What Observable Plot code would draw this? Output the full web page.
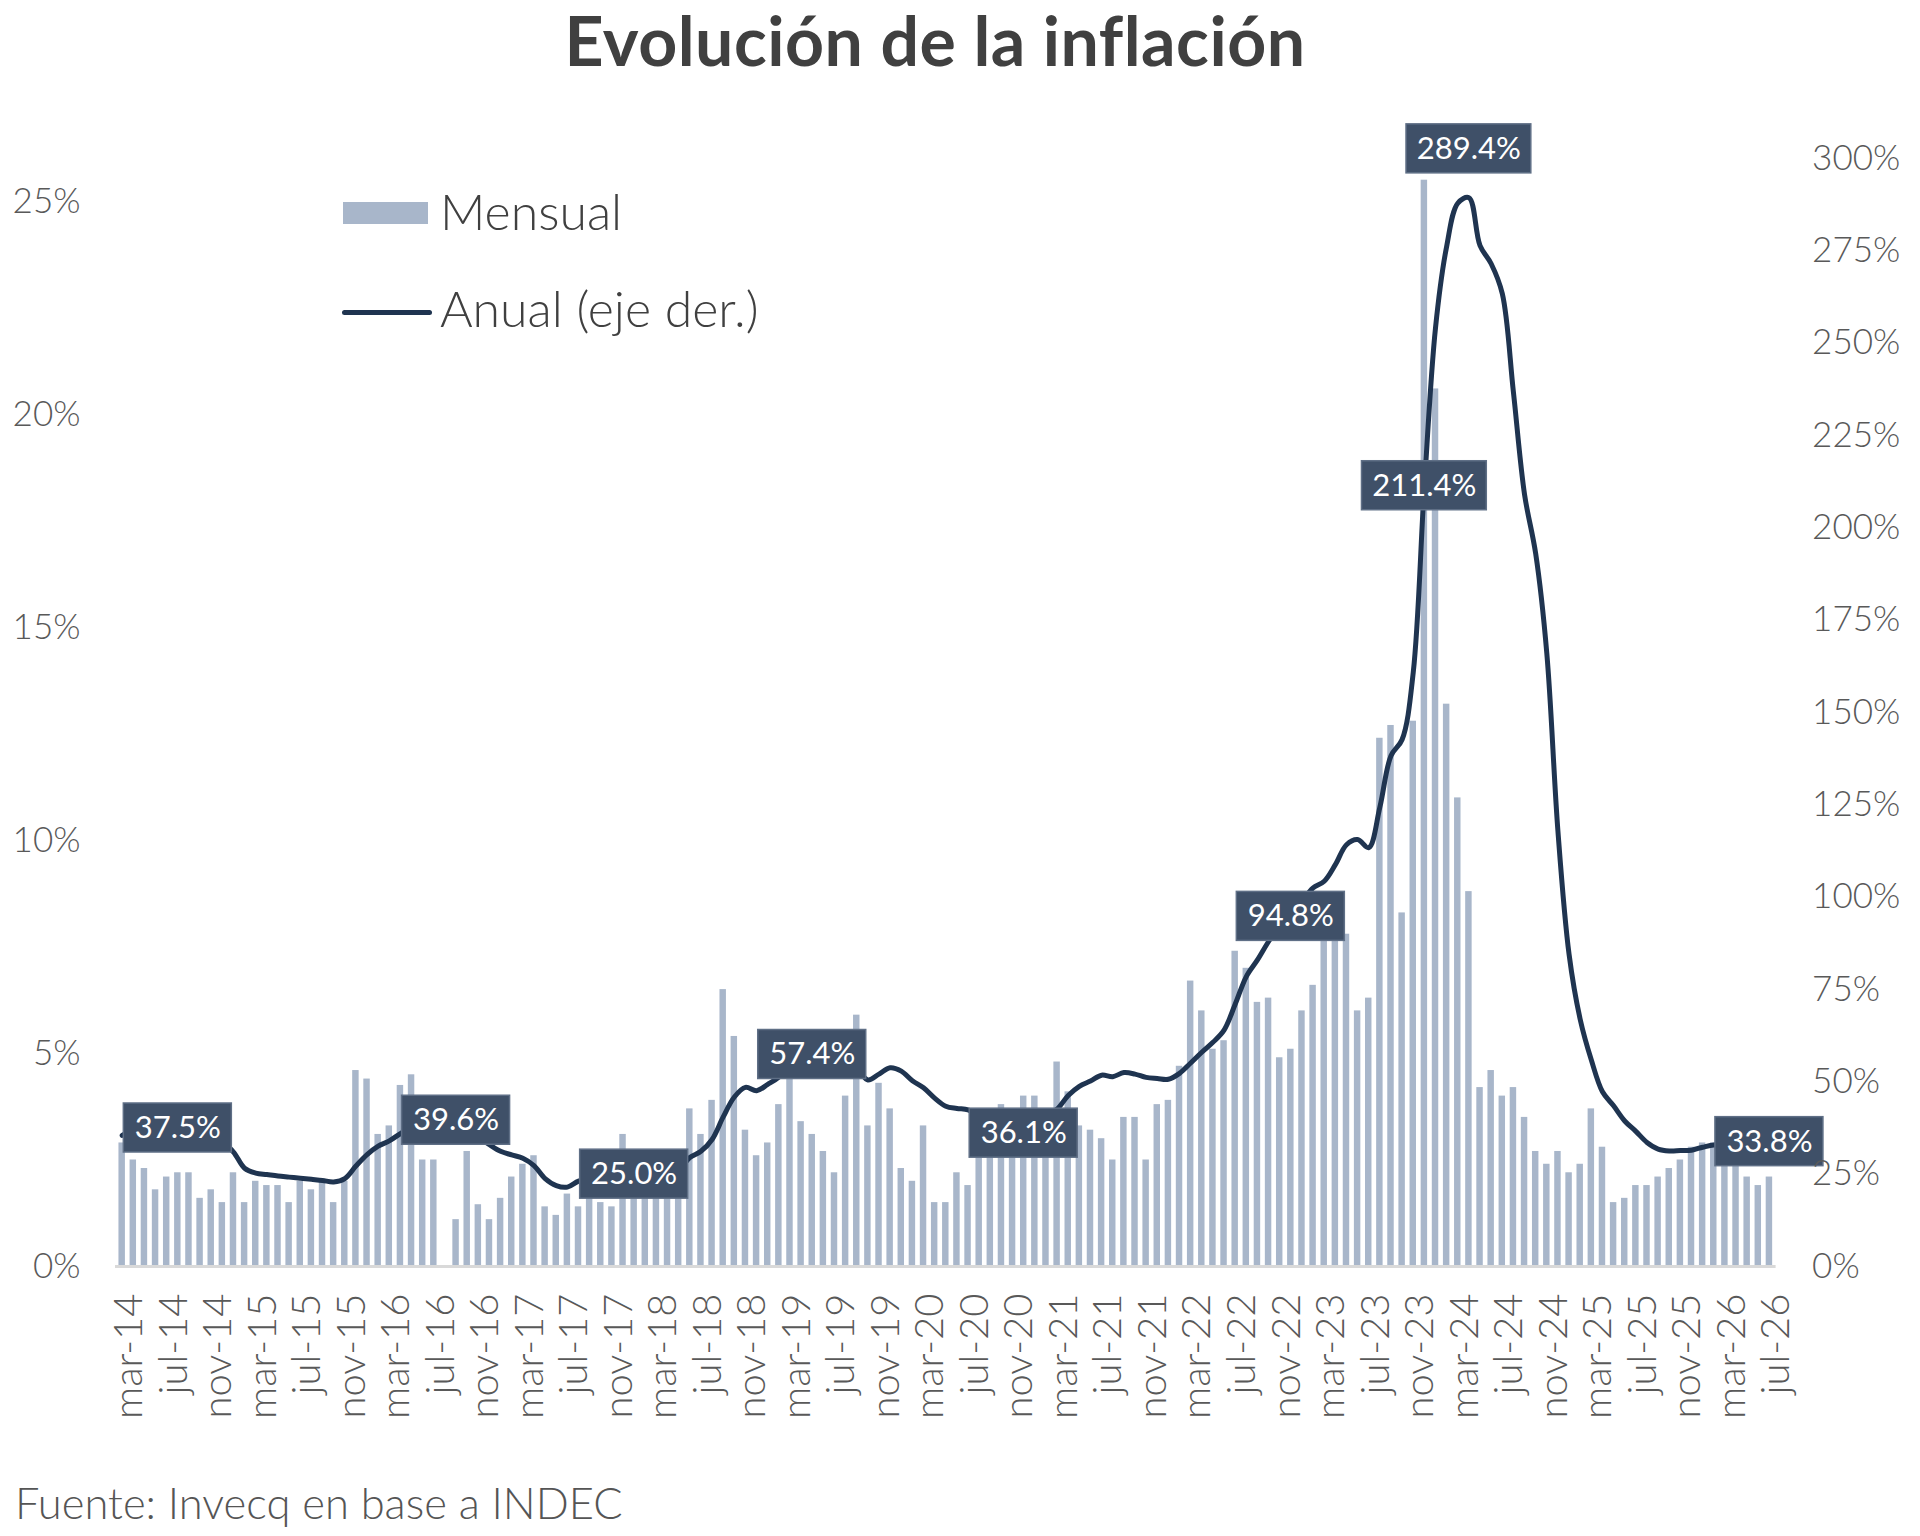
<!DOCTYPE html>
<html lang="es">
<head>
<meta charset="utf-8">
<title>Evolución de la inflación</title>
<script src="https://cdn.jsdelivr.net/npm/d3@7"></script>
<script src="https://cdn.jsdelivr.net/npm/@observablehq/plot@0.6"></script>
<style>
  html, body { margin: 0; padding: 0; background: #ffffff; overflow: hidden; }
  #fig { position: relative; width: 1920px; height: 1536px; font-family: Lato, "Open Sans", sans-serif; }
  #titulo { position: absolute; left: 0; top: 6px; width: 1870px; text-align: center;
            font-size: 68px; line-height: 68px; font-weight: 700; color: #404040; letter-spacing: 0.5px; }
  #chart { position: absolute; left: 0; top: 100px; }
  .ley-txt { position: absolute; left: 440px; font-size: 50px; line-height: 50px; font-weight: 300; color: #404040; white-space: nowrap; }
  #sw-bar { position: absolute; left: 343px; top: 202px; width: 85px; height: 22px; background: #a8b6ca; }
  #sw-line { position: absolute; left: 342px; top: 310px; width: 90px; height: 5px; background: #1f3450; border-radius: 3px; }
  #fuente { position: absolute; left: 15px; top: 1481px; font-size: 43.5px; line-height: 43.5px; font-weight: 300; color: #555555; white-space: nowrap; }
</style>
</head>
<body>
<div id="fig">
  <div id="titulo">Evolución de la inflación</div>
  <div id="chart"></div>
  <div id="sw-bar"></div>
  <div class="ley-txt" style="top:186px">Mensual</div>
  <div id="sw-line"></div>
  <div class="ley-txt" style="top:283px">Anual (eje der.)</div>
  <div id="fuente">Fuente: Invecq en base a INDEC</div>
</div>
<script>
// ---- Categorías (meses) ----
const meses = [
  "mar-14","abr-14","may-14","jun-14","jul-14","ago-14","sep-14","oct-14","nov-14","dic-14",
  "ene-15","feb-15","mar-15","abr-15","may-15","jun-15","jul-15","ago-15","sep-15","oct-15","nov-15","dic-15",
  "ene-16","feb-16","mar-16","abr-16","may-16","jun-16","jul-16","ago-16","sep-16","oct-16","nov-16","dic-16",
  "ene-17","feb-17","mar-17","abr-17","may-17","jun-17","jul-17","ago-17","sep-17","oct-17","nov-17","dic-17",
  "ene-18","feb-18","mar-18","abr-18","may-18","jun-18","jul-18","ago-18","sep-18","oct-18","nov-18","dic-18",
  "ene-19","feb-19","mar-19","abr-19","may-19","jun-19","jul-19","ago-19","sep-19","oct-19","nov-19","dic-19",
  "ene-20","feb-20","mar-20","abr-20","may-20","jun-20","jul-20","ago-20","sep-20","oct-20","nov-20","dic-20",
  "ene-21","feb-21","mar-21","abr-21","may-21","jun-21","jul-21","ago-21","sep-21","oct-21","nov-21","dic-21",
  "ene-22","feb-22","mar-22","abr-22","may-22","jun-22","jul-22","ago-22","sep-22","oct-22","nov-22","dic-22",
  "ene-23","feb-23","mar-23","abr-23","may-23","jun-23","jul-23","ago-23","sep-23","oct-23","nov-23","dic-23",
  "ene-24","feb-24","mar-24","abr-24","may-24","jun-24","jul-24","ago-24","sep-24","oct-24","nov-24","dic-24",
  "ene-25","feb-25","mar-25","abr-25","may-25","jun-25","jul-25","ago-25","sep-25","oct-25","nov-25","dic-25",
  "ene-26","feb-26","mar-26","abr-26","may-26","jun-26","jul-26"
];

// ---- Inflación mensual (%), eje izquierdo ----
const mensual = [
  2.9, 2.5, 2.3, 1.8, 2.1, 2.2, 2.2, 1.6, 1.8, 1.5,
  2.2, 1.5, 2.0, 1.9, 1.9, 1.5, 2.0, 1.8, 2.0, 1.5, 2.0, 4.6,
  4.4, 3.1, 3.3, 4.25, 4.5, 2.5, 2.5, null, 1.1, 2.7, 1.45, 1.1,
  1.6, 2.1, 2.4, 2.6, 1.4, 1.2, 1.7, 1.4, 1.9, 1.5, 1.4, 3.1,
  1.8, 2.4, 2.3, 2.7, 2.1, 3.7, 3.1, 3.9, 6.5, 5.4, 3.2, 2.6,
  2.9, 3.8, 4.7, 3.4, 3.1, 2.7, 2.2, 4.0, 5.9, 3.3, 4.3, 3.7,
  2.3, 2.0, 3.3, 1.5, 1.5, 2.2, 1.9, 2.7, 2.8, 3.8, 3.2, 4.0,
  4.0, 3.6, 4.8, 4.1, 3.3, 3.2, 3.0, 2.5, 3.5, 3.5, 2.5, 3.8,
  3.9, 4.7, 6.7, 6.0, 5.1, 5.3, 7.4, 7.0, 6.2, 6.3, 4.9, 5.1,
  6.0, 6.6, 7.7, 8.4, 7.8, 6.0, 6.3, 12.4, 12.7, 8.3, 12.8, 25.5,
  20.6, 13.2, 11.0, 8.8, 4.2, 4.6, 4.0, 4.2, 3.5, 2.7, 2.4, 2.7,
  2.2, 2.4, 3.7, 2.8, 1.5, 1.6, 1.9, 1.9, 2.1, 2.3, 2.5, 2.8,
  2.9, 2.9, 3.3, 2.7, 2.1, 1.9, 2.1
];

// ---- Inflación anual (%), eje derecho ----
const anual = [
  35.5, 37.0, 37.4, 37.5, 37.5, 37.5, 37.6, 37.3, 36.0, 33.8,
  31.0, 26.6, 25.3, 24.9, 24.5, 24.2, 23.9, 23.6, 23.3, 22.9, 23.8, 27.2,
  30.3, 32.6, 34.0, 36.0, 37.8, 39.0, 39.4, 39.8, 39.6, 37.5, 35.0, 33.0,
  31.2, 30.2, 29.3, 27.3, 23.8, 21.9, 21.5, 23.1, 23.8, 23.2, 22.9, 24.8,
  25.0, 25.4, 25.4, 25.5, 26.3, 29.5, 31.2, 34.4, 40.5, 45.9, 48.5, 47.6,
  49.3, 51.3, 54.7, 55.8, 57.4, 55.8, 54.4, 54.5, 53.5, 50.5, 52.1, 53.8,
  52.9, 50.3, 48.4, 45.6, 43.4, 42.8, 42.4, 40.7, 36.6, 37.2, 35.8, 36.1,
  38.5, 40.7, 42.6, 46.3, 48.8, 50.2, 51.8, 51.4, 52.5, 52.1, 51.2, 50.9,
  50.7, 52.3, 55.1, 58.0, 60.7, 64.0, 71.0, 78.5, 83.0, 88.0, 92.4, 94.8,
  98.8, 102.5, 104.3, 108.8, 114.2, 115.6, 113.4, 124.4, 138.3, 142.7, 160.9, 211.4,
  254.2, 276.2, 287.9, 289.4, 276.4, 271.5, 263.4, 236.7, 209.0, 193.0, 166.0, 117.8,
  84.5, 66.9, 55.9, 47.3, 43.5, 39.4, 36.6, 33.6, 31.8, 31.3, 31.4, 31.5,
  32.3, 32.9, 32.6, 32.4, 33.0, 33.5, 33.8
];

// ---- Etiquetas del eje X ----
const etiquetasEje = [
  "mar-14","jul-14","nov-14","mar-15","jul-15","nov-15","mar-16","jul-16","nov-16",
  "mar-17","jul-17","nov-17","mar-18","jul-18","nov-18","mar-19","jul-19","nov-19",
  "mar-20","jul-20","nov-20","mar-21","jul-21","nov-21","mar-22","jul-22","nov-22",
  "mar-23","jul-23","nov-23","mar-24","jul-24","nov-24","mar-25","jul-25","nov-25",
  "mar-26","jul-26"
];

// ---- Ticks de los ejes Y ----
const ticksIzq = [0, 5, 10, 15, 20, 25];
const ticksDer = [0, 25, 50, 75, 100, 125, 150, 175, 200, 225, 250, 275, 300];

// ---- Meses con etiqueta de valor anual ----
const mesesEtiquetados = ["ago-14","sep-16","ene-18","may-19","dic-20","dic-22","dic-23","abr-24","jul-26"];
const etiquetaArriba = ["abr-24"];

// ---- Layout ----
const W = 1920, H = 1330;
const mL = 115.0, mR = 144.4, mT = 101, mB = 164;
const xDom = [-0.6, 148.6];
const pxPorMes = (W - mL - mR) / (xDom[1] - xDom[0]);
const pxPorPctIzq = (H - mT - mB) / 25;
const pxPorPctDer = 3.6933;
const k = pxPorPctDer / pxPorPctIzq;   // factor eje derecho -> eje izquierdo

const datos = meses.map((m, i) => ({ i, mes: m, mensual: mensual[i], anual: anual[i] }));
const barras = datos.filter(d => d.mensual != null);
const ticksX = etiquetasEje.map(e => meses.indexOf(e));

const etiq = mesesEtiquetados.map(m => {
  const i = meses.indexOf(m);
  const v = anual[i];
  const txt = v.toFixed(1) + "%";
  const anchoPx = 24 + 16.8 * txt.length;
  const desp = etiquetaArriba.includes(m) ? 48.8 / pxPorPctIzq : 0;
  const yc = v * k + desp;
  const hh = 24.5 / pxPorPctIzq;
  return { i, v, txt, yc, x1: i - anchoPx / 2 / pxPorMes, x2: i + anchoPx / 2 / pxPorMes, y1: yc - hh, y2: yc + hh };
});

const colorBarra = "#a8b6ca";
const colorLinea = "#1f3450";
const colorCaja = "#3f5068";

const chart = Plot.plot({
  width: W, height: H,
  marginLeft: mL, marginRight: mR, marginTop: mT, marginBottom: mB,
  x: { domain: xDom },
  y: { domain: [0, 25] },
  style: { fontFamily: "Lato, 'Open Sans', sans-serif", color: "#595959", background: "#ffffff", overflow: "visible" },
  marks: [
    Plot.rectY(barras, { x1: d => d.i - 0.29, x2: d => d.i + 0.29, y: "mensual", fill: colorBarra }),
    Plot.ruleY([0], { stroke: "#d9d9d9", strokeWidth: 3 }),
    Plot.line(datos, { x: "i", y: d => d.anual * k, curve: "catmull-rom", stroke: colorLinea, strokeWidth: 5, strokeLinejoin: "round", strokeLinecap: "round" }),
    Plot.rect(etiq, { x1: "x1", x2: "x2", y1: "y1", y2: "y2", fill: colorCaja, stroke: "#5f6f86", strokeWidth: 1.5 }),
    Plot.text(etiq, { x: "i", y: "yc", text: "txt", fill: "#ffffff", fontSize: 31, fontWeight: 400 }),
    Plot.axisY({ anchor: "left", ticks: ticksIzq, tickFormat: d => d + "%", tickSize: 0, tickPadding: 35, fontSize: 35, fontWeight: 300, label: null }),
    Plot.axisY({ anchor: "right", ticks: ticksDer.map(t => t * k), tickFormat: d => Math.round(d / k) + "%", tickSize: 0, tickPadding: 36, fontSize: 35, fontWeight: 300, label: null }),
    Plot.axisX({ ticks: ticksX, tickFormat: i => meses[i], tickRotate: -90, tickSize: 0, tickPadding: 27, fontSize: 40, fontWeight: 300, label: null, dx: 7 })
  ]
});
document.getElementById("chart").append(chart);
</script>
</body>
</html>
